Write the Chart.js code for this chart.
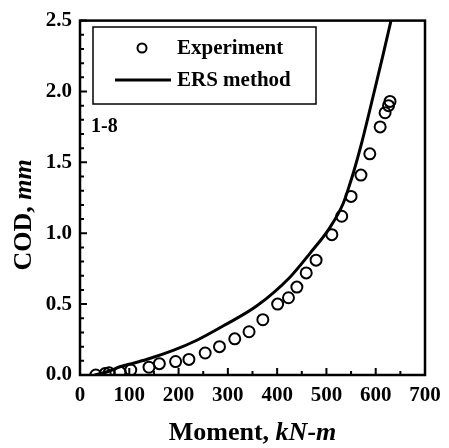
<!DOCTYPE html>
<html>
<head>
<meta charset="utf-8">
<script src="https://cdn.jsdelivr.net/npm/chart.js@4"></script>
<style>
  html, body { margin: 0; padding: 0; background: #fff; }
  canvas { display: block; }
</style>
</head>
<body>
<canvas id="c" width="449" height="448"></canvas>
<script>
// Experiment data (Moment kN-m, COD mm)
const expMoment = [32, 51, 59, 81, 103, 140, 161, 194, 221, 254, 283, 314, 343, 371, 401, 423, 440, 459, 479, 511, 531, 550, 570, 588, 609, 619, 626, 629];
const expCod    = [0.00, 0.01, 0.015, 0.02, 0.035, 0.055, 0.08, 0.095, 0.11, 0.155, 0.20, 0.255, 0.305, 0.39, 0.50, 0.545, 0.62, 0.72, 0.81, 0.99, 1.12, 1.26, 1.41, 1.56, 1.75, 1.85, 1.90, 1.93];
// ERS method curve
const ersMoment = [30, 60, 81, 100, 135, 189, 237, 291, 359, 426, 467, 507, 534, 545, 555, 571, 595, 615, 631];
const ersCod    = [0.0, 0.028, 0.058, 0.076, 0.109, 0.173, 0.245, 0.347, 0.488, 0.69, 0.86, 1.04, 1.21, 1.32, 1.43, 1.63, 1.97, 2.26, 2.5];
// Axis ticks
const xMajorTicks = [0, 100, 200, 300, 400, 500, 600, 700];
const xMinorTicks = [50, 150, 250, 350, 450, 550, 650];
const yMajorTicks = [0, 0.5, 1.0, 1.5, 2.0, 2.5];
const yMinorTicks = [0.1, 0.2, 0.3, 0.4, 0.6, 0.7, 0.8, 0.9, 1.1, 1.2, 1.3, 1.4, 1.6, 1.7, 1.8, 1.9, 2.1, 2.2, 2.3, 2.4];

const FONT = "'Liberation Serif', 'DejaVu Serif', serif";

const toPts = (xs, ys) => xs.map((x, i) => ({ x: x, y: ys[i] }));

const decor = {
  id: 'decor',
  afterDraw(chart) {
    const ctx = chart.ctx;
    const a = chart.chartArea;
    const xs = chart.scales.x, ys = chart.scales.y;
    ctx.save();
    ctx.strokeStyle = '#000';
    ctx.fillStyle = '#000';
    // ticks (inward)
    ctx.lineWidth = 2;
    ctx.beginPath();
    xMajorTicks.forEach(v => { const p = xs.getPixelForValue(v); ctx.moveTo(p, a.bottom); ctx.lineTo(p, a.bottom - 7); });
    xMinorTicks.forEach(v => { const p = xs.getPixelForValue(v); ctx.moveTo(p, a.bottom); ctx.lineTo(p, a.bottom - 4); });
    yMajorTicks.forEach(v => { const p = ys.getPixelForValue(v); ctx.moveTo(a.left, p); ctx.lineTo(a.left + 7, p); });
    yMinorTicks.forEach(v => { const p = ys.getPixelForValue(v); ctx.moveTo(a.left, p); ctx.lineTo(a.left + 4, p); });
    ctx.stroke();
    // frame
    ctx.lineWidth = 2.5;
    ctx.strokeRect(a.left, a.top, a.right - a.left, a.bottom - a.top);

    // legend box
    ctx.lineWidth = 1.5;
    ctx.strokeRect(93, 27, 223, 77);
    ctx.lineWidth = 2;
    ctx.beginPath();
    ctx.arc(142, 48, 4.5, 0, Math.PI * 2);
    ctx.stroke();
    ctx.lineWidth = 3;
    ctx.beginPath();
    ctx.moveTo(115, 80); ctx.lineTo(171, 80);
    ctx.stroke();
    ctx.font = "bold 21px " + FONT;
    ctx.textBaseline = 'middle';
    ctx.textAlign = 'left';
    ctx.fillText('Experiment', 177, 49);
    ctx.fillText('ERS method', 177, 81);

    // specimen label
    ctx.font = "bold 20px " + FONT;
    ctx.fillText('1-8', 91, 127);

    // x title
    const xa = 'Moment, ', xb = 'kN-m';
    ctx.font = "bold 26px " + FONT;
    const wa = ctx.measureText(xa).width;
    ctx.font = "italic bold 26px " + FONT;
    const wb = ctx.measureText(xb).width;
    let sx = (a.left + a.right) / 2 - (wa + wb) / 2;
    ctx.textBaseline = 'alphabetic';
    ctx.font = "bold 26px " + FONT;
    ctx.fillText(xa, sx, 440);
    ctx.font = "italic bold 26px " + FONT;
    ctx.fillText(xb, sx + wa, 440);

    // y title
    const ya = 'COD, ', yb = 'mm';
    ctx.font = "bold 26px " + FONT;
    const wya = ctx.measureText(ya).width;
    ctx.font = "italic bold 26px " + FONT;
    const wyb = ctx.measureText(yb).width;
    ctx.translate(31, 215);
    ctx.rotate(-Math.PI / 2);
    const sy = -(wya + wyb) / 2;
    ctx.font = "bold 26px " + FONT;
    ctx.fillText(ya, sy, 0);
    ctx.font = "italic bold 26px " + FONT;
    ctx.fillText(yb, sy + wya, 0);
    ctx.restore();
  }
};

new Chart(document.getElementById('c'), {
  type: 'scatter',
  data: {
    datasets: [
      {
        label: 'Experiment',
        data: toPts(expMoment, expCod),
        showLine: false,
        pointStyle: 'circle',
        pointRadius: 5.5,
        pointBorderWidth: 2,
        borderColor: '#000',
        backgroundColor: 'rgba(0,0,0,0)'
      },
      {
        label: 'ERS method',
        data: toPts(ersMoment, ersCod),
        showLine: true,
        pointRadius: 0,
        borderColor: '#000',
        borderWidth: 3,
        cubicInterpolationMode: 'monotone',
        fill: false
      }
    ]
  },
  options: {
    responsive: false,
    animation: false,
    devicePixelRatio: 1,
    layout: { padding: { top: 14, right: 24, left: 0, bottom: 0 } },
    plugins: { legend: { display: false }, tooltip: { enabled: false } },
    scales: {
      x: {
        type: 'linear', min: 0, max: 700,
        grid: { display: false, drawTicks: false },
        border: { display: false },
        ticks: {
          stepSize: 100, color: '#000', padding: 8,
          font: { family: FONT, size: 21, weight: 'bold' },
          maxRotation: 0
        },
        afterFit: s => { s.height = 73; }
      },
      y: {
        type: 'linear', min: 0, max: 2.5,
        grid: { display: false, drawTicks: false },
        border: { display: false },
        ticks: {
          stepSize: 0.5, color: '#000', padding: 8,
          font: { family: FONT, size: 21, weight: 'bold' },
          callback: v => Number(v).toFixed(1)
        },
        afterFit: s => { s.width = 80; }
      }
    }
  },
  plugins: [decor]
});
</script>
</body>
</html>
